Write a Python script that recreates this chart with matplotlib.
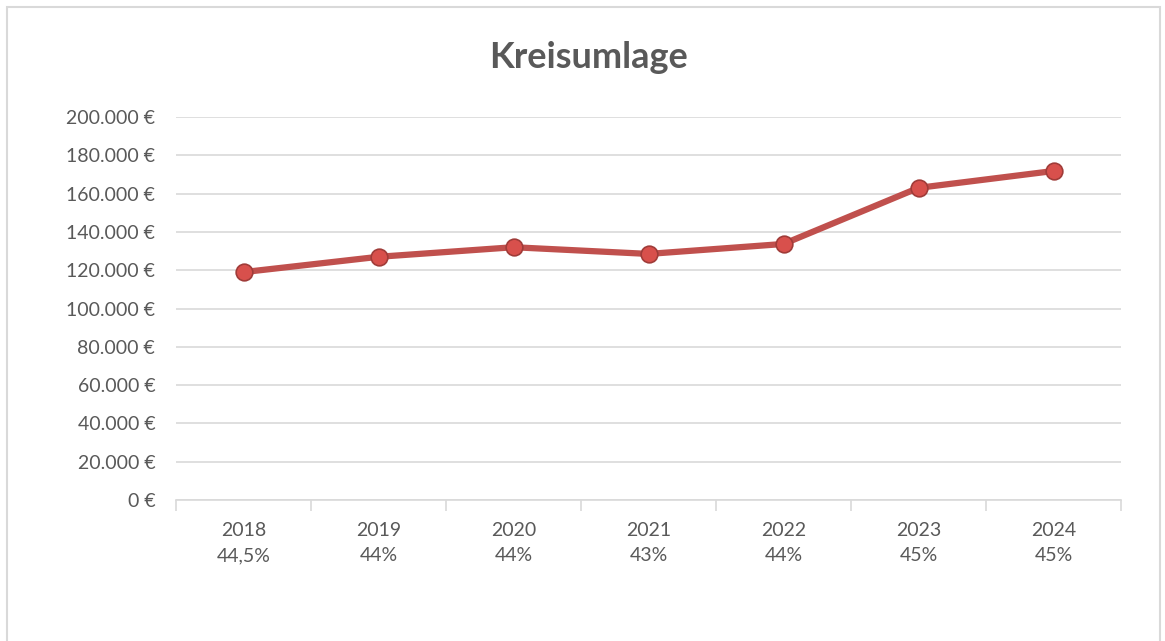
import matplotlib
matplotlib.use("Agg")
import matplotlib.pyplot as plt
from matplotlib.ticker import FuncFormatter, FixedLocator
from matplotlib.patches import Rectangle

years = ["2018", "2019", "2020", "2021", "2022", "2023", "2024"]
rates = ["44,5%", "44%", "44%", "43%", "44%", "45%", "45%"]
values = [119000, 127000, 132000, 128500, 133700, 163000, 171800]
title = "Kreisumlage"

plt.rcParams['font.family'] = ['Lato', 'DejaVu Sans']
text_color = '#595959'
grid_color = '#d9d9d9'

fig = plt.figure(figsize=(11.65, 6.41), dpi=100)
fig.patch.set_facecolor('white')
fig.patches.append(Rectangle((7/1165, -0.01), (1160-7)/1165, 1 - 7/641 + 0.01,
                             transform=fig.transFigure, fill=False,
                             edgecolor=grid_color, linewidth=1.5))

ax = fig.add_axes([176/1165, 1-500/641, (1121-176)/1165, (500-117)/641])
x = list(range(len(years)))
ax.plot(x, values, color='#C0504D', linewidth=4.5, solid_capstyle='round',
        marker='o', markersize=12, markerfacecolor='#D8504C',
        markeredgecolor='#A03C39', markeredgewidth=1.2, zorder=3)

ax.set_xlim(-0.5, len(years) - 0.5)
ax.set_ylim(0, 200000)
ax.set_yticks(range(0, 200001, 20000))
ax.yaxis.set_major_formatter(FuncFormatter(lambda v, p: f"{int(v):,}".replace(",", ".") + " €"))
ax.grid(axis='y', color=grid_color, linewidth=1.2)
ax.set_axisbelow(True)

ax.set_xticks(x)
ax.set_xticklabels([f"{y}\n{r}" for y, r in zip(years, rates)], linespacing=1.55)
ax.xaxis.set_minor_locator(FixedLocator([i - 0.5 for i in range(len(years) + 1)]))
ax.tick_params(axis='x', which='major', length=0, pad=16, labelsize=14, labelcolor=text_color)
ax.tick_params(axis='x', which='minor', length=8, color=grid_color, width=1.2)
ax.tick_params(axis='y', length=0, pad=15, labelsize=14, labelcolor=text_color)

for s in ['top', 'right', 'left']:
    ax.spines[s].set_visible(False)
ax.spines['bottom'].set_color(grid_color)
ax.spines['bottom'].set_linewidth(1.2)

fig.text(588/1165, 1 - 57/641, title, ha='center', va='center', fontsize=26,
         fontweight='bold', color=text_color)

fig.savefig("out.png", dpi=100, facecolor='white')
